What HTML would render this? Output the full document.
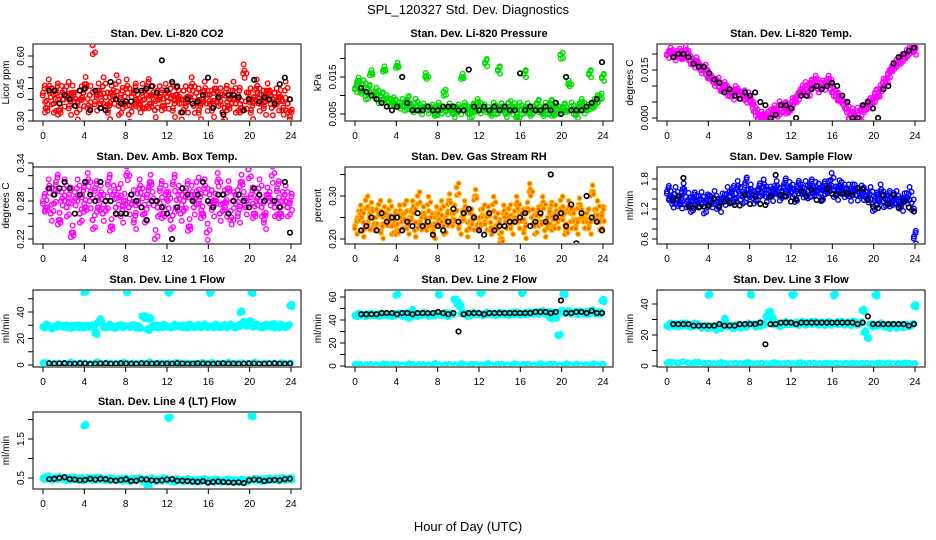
<!DOCTYPE html>
<html><head><meta charset="utf-8"><style>
body{margin:0;background:#fff;font-family:"Liberation Sans",sans-serif}
svg{display:block}
</style></head><body>
<svg id="chart" width="936" height="540" viewBox="0 0 936 540" xmlns="http://www.w3.org/2000/svg">
<text x="468" y="14" text-anchor="middle" font-size="13" font-family="Liberation Sans, sans-serif">SPL_120327  Std. Dev. Diagnostics</text>
<text x="468" y="531" text-anchor="middle" font-size="13" font-family="Liberation Sans, sans-serif">Hour of Day (UTC)</text>
</svg>
<script>
// ---- data (values per panel) ----
const hourTicks = [0,4,8,12,16,20,24];
const co2Red = [.43,.36,.45,.41,.38,.44,.35,.42,.40,.46,.37,.43,.39,.34,.44,.41,.47,.36,.42,.65,.39,.44,.38,.46,.41,.35,.43,.40,.47,.37,.42,.38,.45,.33,.41,.44,.39,.36,.43,.40,.46,.38,.42,.35,.44,.41,.37,.43,.39,.45,.36,.42,.40,.34,.44,.38,.41,.46,.37,.43,.35,.40,.44,.38,.42,.36,.45,.39,.41,.34,.43,.37,.40,.44,.38,.42,.36,.52,.39,.43,.35,.41,.45,.38,.42,.37,.44,.40,.36,.43,.39,.41,.35,.44,.38,.32];
const co2Black = [.44,.44,.38,.42,.40,.37,.44,.45,.35,.44,.36,.35,.48,.40,.38,.39,.39,.44,.44,.45,.46,.43,.58,.44,.48,.46,.34,.40,.38,.39,.42,.50,.36,.41,.33,.42,.42,.41,.35,.40,.49,.39,.41,.40,.38,.47,.50,.40];
const presGreen = [.012,.014,.011,.013,.010,.012,.016,.010,.011,.009,.010,.017,.009,.008,.009,.008,.018,.007,.008,.007,.009,.007,.006,.008,.007,.006,.007,.015,.006,.007,.006,.005,.007,.006,.011,.006,.007,.006,.005,.007,.006,.015,.007,.006,.005,.007,.006,.008,.006,.007,.019,.006,.005,.007,.006,.017,.007,.006,.005,.008,.006,.007,.004,.007,.006,.016,.007,.005,.006,.007,.008,.006,.005,.007,.006,.008,.005,.007,.006,.021,.007,.006,.013,.007,.006,.005,.007,.008,.006,.007,.016,.007,.008,.009,.010,.015];
const presBlack = [.012,.011,.010,.009,.008,.007,.006,.007,.015,.008,.006,.006,.006,.007,.006,.006,.007,.007,.007,.006,.006,.017,.007,.006,.007,.006,.007,.006,.007,.006,.006,.016,.006,.007,.006,.006,.007,.006,.008,.005,.015,.006,.006,.006,.007,.008,.009,.019];
const tempMag = [.020,.021,.020,.019,.021,.020,.019,.021,.019,.018,.017,.018,.016,.015,.016,.014,.013,.012,.011,.012,.010,.009,.010,.008,.008,.007,.009,.008,.007,.008,.006,.007,.005,.003,.002,.000,.001,.000,.000,.002,.000,.003,.001,.004,.003,.004,.002,.003,.005,.006,.007,.008,.009,.010,.008,.011,.010,.012,.009,.011,.010,.011,.012,.009,.008,.007,.006,.005,.004,.003,.000,.002,.000,.002,.000,.003,.003,.004,.005,.006,.008,.007,.009,.011,.012,.014,.015,.016,.017,.018,.019,.019,.020,.021,.022,.021];
const tempBlack = [.019,.020,.020,.019,.017,.016,.016,.014,.012,.011,.008,.009,.007,.006,.008,.007,.008,.005,.004,.000,.001,.004,.004,.003,.000,.007,.007,.009,.010,.009,.010,.011,.010,.007,.005,.000,.000,.004,.005,.003,.000,.009,.010,.017,.019,.020,.021,.022];
const ambMag = [.28,.27,.30,.26,.29,.31,.25,.28,.30,.27,.29,.23,.28,.30,.26,.29,.27,.31,.28,.25,.30,.27,.29,.26,.28,.31,.24,.29,.27,.30,.26,.28,.32,.27,.29,.25,.28,.30,.27,.26,.29,.31,.28,.22,.27,.30,.26,.29,.28,.25,.31,.27,.29,.26,.28,.30,.24,.29,.27,.31,.28,.26,.30,.23,.29,.27,.28,.31,.26,.29,.27,.30,.25,.28,.29,.26,.31,.28,.27,.33,.29,.26,.28,.30,.27,.25,.29,.28,.32,.27,.30,.26,.28,.29,.27,.28];
const ambBlack = [.30,.29,.30,.31,.30,.26,.29,.31,.29,.28,.31,.28,.28,.26,.26,.26,.29,.28,.27,.25,.28,.28,.27,.26,.22,.27,.30,.29,.28,.29,.31,.28,.27,.29,.29,.26,.28,.29,.28,.27,.30,.29,.28,.34,.28,.27,.31,.23];
const rhOrange = [.23,.25,.26,.22,.29,.24,.27,.23,.25,.28,.22,.26,.24,.27,.23,.25,.22,.26,.24,.28,.23,.25,.27,.22,.30,.24,.26,.23,.28,.25,.22,.26,.24,.27,.23,.25,.29,.24,.26,.32,.23,.25,.27,.22,.26,.24,.30,.23,.25,.27,.24,.26,.22,.28,.25,.23,.20,.26,.24,.27,.23,.25,.28,.24,.26,.22,.27,.31,.25,.23,.26,.24,.28,.22,.25,.27,.23,.26,.24,.29,.25,.22,.27,.24,.26,.23,.28,.25,.24,.26,.23,.31,.25,.27,.24,.26];
const rhBlack = [.22,.23,.25,.22,.26,.24,.25,.25,.22,.24,.23,.26,.23,.24,.21,.23,.22,.24,.27,.24,.26,.27,.25,.22,.21,.26,.22,.23,.23,.24,.24,.25,.26,.23,.24,.26,.24,.35,.25,.26,.23,.28,.19,.26,.30,.25,.24,.22];
const flowBlue = [1.55,1.45,1.30,1.50,1.40,1.35,1.60,1.30,1.38,1.28,1.42,1.35,1.32,1.40,1.25,1.38,1.36,1.30,1.42,1.34,1.28,1.40,1.35,1.50,1.45,1.55,1.40,1.62,1.50,1.45,1.72,1.48,1.55,1.42,1.50,1.60,1.52,1.65,1.45,1.58,1.50,1.55,1.62,1.48,1.56,1.70,1.52,1.60,1.55,1.48,1.65,1.58,1.50,1.62,1.55,1.68,1.52,1.60,1.57,1.50,1.64,1.56,1.62,1.78,1.58,1.52,1.66,1.60,1.55,1.62,1.50,1.58,1.55,1.48,1.60,1.52,1.45,1.40,1.50,1.30,1.42,1.38,1.55,1.35,1.40,1.45,1.32,1.38,1.42,1.35,1.30,1.40,1.38,1.50,1.32,0.65];
const flowBlack = [1.38,1.45,1.82,1.25,1.22,1.23,1.25,1.27,1.40,1.25,1.35,1.33,1.28,1.27,1.48,1.30,1.45,1.30,1.28,1.45,1.88,1.48,1.45,1.35,1.40,1.55,1.45,1.58,1.38,1.37,1.60,1.50,1.49,1.50,1.52,1.48,1.62,1.60,1.38,1.25,1.22,1.47,1.30,1.48,1.23,1.35,1.23,1.15];
const l1Cyan = [29,30,29,28,29,30,29,29,30,29,29,28,29,30,29,29,55,29,30,29,24,32,34,29,29,30,29,28,29,30,29,29,55,29,30,29,29,28,37,36,27,35,29,30,29,29,30,29,55,29,30,29,29,30,29,29,30,29,29,30,29,29,30,29,55,29,30,29,29,30,29,29,30,29,29,30,40,32,30,33,55,29,30,29,29,30,29,29,31,29,29,30,29,29,30,45];
const l1CyanLow = [1.5,1.8,1.2,1.6,1.4,1.7,1.3,1.5,1.6,1.2,1.8,1.4,1.5,1.3,1.7,1.6,1.4,1.5,1.2,1.6,1.8,1.4,1.5,1.3,1.6,1.5,1.7,1.4,1.2,1.6,1.5,1.3,1.8,1.4,1.5,1.6,1.3,1.5,1.7,1.4,1.6,1.2,1.5,1.4,1.6,1.3,1.5,1.4];
const l1Black = [1.2,1.0,1.1,1.3,0.9,1.0,1.2,1.1,0.8,1.0,1.1,1.2,0.9,1.0,1.3,1.1,1.0,0.9,1.2,1.1,1.0,1.2,0.9,1.1,1.0,1.3,1.1,0.9,1.0,1.2,1.1,1.0,0.9,1.1,1.2,1.0,1.1,0.9,1.0,1.2,1.1,1.0,0.9,1.1,1.2,1.0,0.9,1.1];
const l2Cyan = [44,45,44,45,44,45,45,44,45,44,45,45,44,45,44,45,62,45,44,46,43,42,48,45,44,45,46,45,44,45,45,44,62,45,46,44,45,45,58,55,52,46,45,44,45,46,45,45,64,45,46,45,45,46,45,46,45,45,46,45,46,45,46,45,64,46,45,46,46,47,46,46,47,46,47,42,46,42,27,48,63,46,47,46,47,46,47,46,47,46,47,48,46,47,46,57];
const l2CyanLow = [1.2,1.5,1.0,1.4,1.3,1.1,1.6,1.2,1.4,1.0,1.3,1.5,1.1,1.4,1.2,1.6,1.3,1.0,1.4,1.2,1.5,1.1,1.3,1.4,1.2,1.6,1.0,1.3,1.5,1.1,1.4,1.2,1.3,1.5,1.1,1.4,1.2,1.6,1.3,1.0,1.4,1.2,1.5,1.1,1.3,1.4,1.2,1.3];
const l2Black = [45,45,45,45,46,46,46,45,46,46,45,46,46,46,46,47,46,45,46,30,45,46,46,46,45,46,46,46,46,46,46,46,46,46,47,47,47,46,47,57,46,46,47,47,46,48,46,46];
const l3Cyan = [26,27,26,27,26,27,26,27,26,26,27,26,26,25,26,25,46,25,26,24,25,26,30,26,26,25,26,26,25,26,26,27,46,27,26,27,26,27,32,35,31,27,27,26,27,28,27,27,46,28,27,27,28,27,28,28,27,28,27,28,27,27,28,27,46,28,27,28,27,28,27,28,28,27,28,36,22,18,27,26,46,26,27,26,26,25,26,26,25,26,26,25,26,26,27,39];
const l3CyanLow = [2.0,2.5,1.8,2.8,2.2,1.9,2.6,1.6,1.9,1.5,1.8,1.6,1.4,1.7,1.5,1.9,1.6,1.4,1.8,1.5,1.7,1.6,1.4,1.8,1.5,1.7,1.4,1.6,1.8,1.5,1.4,1.7,1.6,1.5,1.8,1.4,1.6,1.5,1.7,1.4,1.6,1.5,1.8,1.4,1.6,1.5,1.7,1.5];
const l3Black = [27,27,27,27,26,26,26,26,26,27,26,26,26,27,27,27,27,28,14,27,27,28,28,28,27,28,28,28,28,28,28,28,28,28,28,28,27,28,32,27,27,27,27,27,27,27,26,27];
const l4Cyan = [.50,.48,.52,.47,.50,.49,.51,.48,.50,.47,.49,.46,.48,.47,.50,.46,1.85,.48,.50,.47,.49,.46,.48,.47,.46,.48,.45,.47,.46,.48,.45,.47,.46,.44,.48,.46,.45,.47,.44,.46,.30,.45,.47,.44,.46,.45,.48,.46,2.05,.45,.43,.46,.44,.45,.43,.46,.44,.42,.45,.43,.44,.42,.45,.43,.44,.42,.45,.43,.42,.44,.43,.45,.42,.44,.43,.42,.44,.43,.45,.44,2.10,.46,.45,.47,.44,.46,.45,.47,.46,.48,.46,.47,.48,.46,.49,.48];
const l4Black = [.47,.48,.50,.52,.47,.46,.44,.45,.48,.46,.48,.47,.44,.43,.45,.47,.42,.43,.47,.46,.44,.43,.44,.46,.47,.43,.43,.42,.41,.40,.42,.38,.40,.41,.40,.39,.38,.39,.37,.44,.46,.45,.42,.44,.45,.44,.47,.48];

// ---- layout ----
const svg = document.getElementById('chart');
const NS = 'http://www.w3.org/2000/svg';
function mk(tag, attrs, parent){const e=document.createElementNS(NS,tag);for(const k in attrs)e.setAttribute(k,attrs[k]);(parent||svg).appendChild(e);return e;}
const colL=[33,345,657], rowT=[44,167,290,412], W=268, H=77;
// rendering jitter pattern (pixel offsets for cloud density; not data)
const JX=[0,1.3,-1.2,0.6,-0.5], JY=[0,1,-0.8,0.5,-0.3];

function panel(o){
  const g = mk('g',{});
  
  
  const L=colL[o.c], T=rowT[o.r], R=L+W, B=T+H;
  const xs = h => L+10 + h*(W-20)/24;
  const ys = v => o.p1 + (v-o.v1)*(o.p2-o.p1)/(o.v2-o.v1);
  const box = mk('rect',{x:L,y:T,width:W,height:H,fill:'none',stroke:'#000','stroke-width':1},g);
  
  
  const t = mk('text',{x:L+W/2,y:T-7,'text-anchor':'middle','font-size':11,'font-weight':'bold'},g);
  t.textContent=o.title;
  
  
  const yl = mk('text',{x:0,y:0,'text-anchor':'middle','font-size':10,transform:`translate(${L-24},${T+H/2}) rotate(-90)`},g);
  yl.textContent=o.ylab;
  
  
  mk('line',{x1:xs(0),x2:xs(24),y1:B,y2:B,stroke:'#000'},g);
  hourTicks.forEach(h=>{
    mk('line',{x1:xs(h),x2:xs(h),y1:B,y2:B+5,stroke:'#000'},g);
    const tl=mk('text',{x:xs(h),y:B+18,'text-anchor':'middle','font-size':10},g);
    tl.textContent=h;
    
    
  });
  mk('line',{x1:L,x2:L,y1:ys(o.yt[0]),y2:ys(o.yt[o.yt.length-1]),stroke:'#000'},g);
  o.yt.forEach(v=>{
    mk('line',{x1:L-5,x2:L,y1:ys(v),y2:ys(v),stroke:'#000'},g);
  });
  o.yl.forEach(v=>{
    const tl=mk('text',{x:0,y:0,'text-anchor':'middle','font-size':10,transform:`translate(${L-9},${ys(v)}) rotate(-90)`},g);
    tl.textContent=v.toFixed(o.dp);
    
    
  });
  const clip = 'clip'+o.name;
  const cp = mk('clipPath',{id:clip},g); mk('rect',{x:L+1,y:T+1,width:W-2,height:H-2},cp);
  const pg = mk('g',{'clip-path':`url(#${clip})`},g);
  o.series.forEach(s=>{
    const n=s.vals.length;
    s.vals.forEach((v,i)=>{
      const h = s.black ? 0.6 + i*(23.3/(n-1)) : i*(23.9/(n-1));
      const copies = s.copies||1, jit = s.jit||0;
      for(let k=0;k<copies;k++){
        const m=(i+k*2)%5;
        const c = mk('circle',{cx:xs(h)+JX[(k+i)%5]*(k?1:0)+k*0.5,cy:ys(v)+(k?JY[m]*jit*(k%2?1:-1):0),r:s.r||2.3,fill:s.fill||'none',stroke:s.col,'stroke-width':s.sw||1.4},pg);
        
        
      }
    });
  });
}
const K='#000';
panel({name:'panel-co2',c:0,r:0,title:'Stan. Dev. Li-820 CO2',ylab:'Licor ppm',v1:.30,p1:121,v2:.60,p2:56,yt:[.30,.35,.40,.45,.50,.55,.60],yl:[.30,.45,.60],dp:2,
  series:[{name:'co2-red-point',vals:co2Red,col:'#f00',copies:5,jit:9},{name:'co2-black-point',vals:co2Black,col:K,black:1,sw:1.6}]});
panel({name:'panel-pressure',c:1,r:0,title:'Stan. Dev. Li-820 Pressure',ylab:'kPa',v1:.005,p1:114,v2:.015,p2:77,yt:[.005,.01,.015,.02],yl:[.005,.015],dp:3,
  series:[{name:'pressure-green-point',vals:presGreen,col:'#0d0',copies:5,jit:4},{name:'pressure-black-point',vals:presBlack,col:K,black:1,sw:1.6}]});
panel({name:'panel-temp',c:2,r:0,title:'Stan. Dev. Li-820 Temp.',ylab:'degrees C',v1:0,p1:118,v2:.015,p2:70,yt:[0,.005,.01,.015,.02],yl:[0,.015],dp:3,
  series:[{name:'temp-magenta-point',vals:tempMag,col:'#f0f',copies:5,jit:4},{name:'temp-black-point',vals:tempBlack,col:K,black:1,sw:1.6}]});
panel({name:'panel-amb-box',c:0,r:1,title:'Stan. Dev. Amb. Box Temp.',ylab:'degrees C',v1:.22,p1:239,v2:.34,p2:163,yt:[.22,.24,.26,.28,.30,.32,.34],yl:[.22,.28,.34],dp:2,
  series:[{name:'amb-magenta-point',vals:ambMag,col:'#f0f',copies:5,jit:9},{name:'amb-black-point',vals:ambBlack,col:K,black:1,sw:1.6}]});
panel({name:'panel-rh',c:1,r:1,title:'Stan. Dev. Gas Stream RH',ylab:'percent',v1:.20,p1:239,v2:.30,p2:196,yt:[.20,.25,.30,.35],yl:[.20,.30],dp:2,
  series:[{name:'rh-orange-point',vals:rhOrange,col:'#fb0',fill:'#f60',sw:1.2,copies:5,jit:8},{name:'rh-black-point',vals:rhBlack,col:K,black:1,sw:1.6}]});
panel({name:'panel-sample-flow',c:2,r:1,title:'Stan. Dev. Sample Flow',ylab:'ml/min',v1:.6,p1:239,v2:1.8,p2:179,yt:[.6,.8,1.0,1.2,1.4,1.6,1.8],yl:[.6,1.2,1.8],dp:1,
  series:[{name:'flow-blue-point',vals:flowBlue,col:'#00f',copies:5,jit:7},{name:'flow-black-point',vals:flowBlack,col:K,black:1,sw:1.6}]});
panel({name:'panel-line1',c:0,r:2,title:'Stan. Dev. Line 1 Flow',ylab:'ml/min',v1:0,p1:365,v2:40,p2:312,yt:[0,10,20,30,40,50],yl:[0,20,40],dp:0,
  series:[{name:'line1-cyan-point',vals:l1Cyan,col:'#0ff',sw:2.2,copies:4,jit:1.5},{name:'line1-cyan-low-point',vals:l1CyanLow,col:'#0ff',sw:2.2,copies:2,jit:1},{name:'line1-black-point',vals:l1Black,col:K,black:1,sw:1.6}]});
panel({name:'panel-line2',c:1,r:2,title:'Stan. Dev. Line 2 Flow',ylab:'ml/min',v1:0,p1:366,v2:60,p2:297,yt:[0,10,20,30,40,50,60],yl:[0,20,40,60],dp:0,
  series:[{name:'line2-cyan-point',vals:l2Cyan,col:'#0ff',sw:2.2,copies:4,jit:1.5},{name:'line2-cyan-low-point',vals:l2CyanLow,col:'#0ff',sw:2.2,copies:2,jit:1},{name:'line2-black-point',vals:l2Black,col:K,black:1,sw:1.6}]});
panel({name:'panel-line3',c:2,r:2,title:'Stan. Dev. Line 3 Flow',ylab:'ml/min',v1:0,p1:366,v2:40,p2:304,yt:[0,10,20,30,40],yl:[0,20,40],dp:0,
  series:[{name:'line3-cyan-point',vals:l3Cyan,col:'#0ff',sw:2.2,copies:4,jit:1.5},{name:'line3-cyan-low-point',vals:l3CyanLow,col:'#0ff',sw:2.2,copies:2,jit:1},{name:'line3-black-point',vals:l3Black,col:K,black:1,sw:1.6}]});
panel({name:'panel-line4',c:0,r:3,title:'Stan. Dev. Line 4 (LT) Flow',ylab:'ml/min',v1:.5,p1:478,v2:1.5,p2:439,yt:[.5,1.0,1.5,2.0],yl:[.5,1.5],dp:1,
  series:[{name:'line4-cyan-point',vals:l4Cyan,col:'#0ff',sw:2.2,copies:4,jit:1.5},{name:'line4-black-point',vals:l4Black,col:K,black:1,sw:1.6}]});
</script>
</body></html>
